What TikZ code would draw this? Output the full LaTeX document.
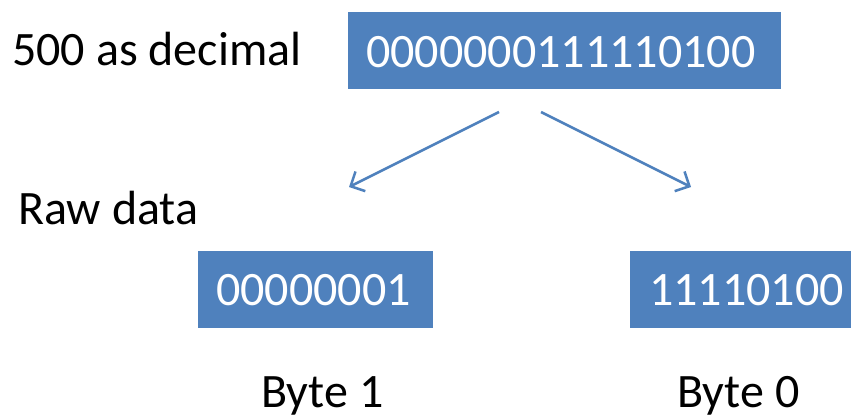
\documentclass[tikz,border=0pt]{standalone}
\usepackage{fontspec}
\setmainfont{Carlito}
\usetikzlibrary{arrows.meta}
\definecolor{boxblue}{HTML}{4F81BD}
\begin{document}
\begin{tikzpicture}[x=1pt,y=-1pt,
  bitbox/.style={fill=boxblue,draw=none},
  bits/.style={anchor=base west,inner sep=0pt,text=white,font=\fontsize{48}{58}\selectfont},
  label/.style={anchor=base west,inner sep=0pt,text=black,font=\fontsize{48}{58}\selectfont},
  split/.style={draw=boxblue,line width=2.5pt,-{Straight Barb[length=11pt,width=22pt,line width=2.5pt]}}]
\useasboundingbox (0,0) rectangle (854,418);

% the 16-bit value and the two bytes
\fill[bitbox] (348,12) rectangle (781,89);
\node[bits] (word) at (366,67) {0000000111110100};
\fill[bitbox] (198,251) rectangle (433,328);
\node[bits] (hi) at (216,305) {00000001};
\fill[bitbox] (630,251) rectangle (851,328);
\node[bits] (lo) at (649,305) {11110100};

% captions
\node[label] (dec) at (12,65) {500 as decimal};
\node[label] (raw) at (18,224) {Raw data};
\node[label] (b1) at (261,407) {Byte 1};
\node[label] (b0) at (677,407) {Byte 0};

% splitting arrows
\coordinate (s1) at (499,112);
\coordinate (e1) at (349,187);
\coordinate (s0) at (541,112);
\coordinate (e0) at (691,187);
\draw[split] (s1) -- (e1);
\draw[split] (s0) -- (e0);
\end{tikzpicture}
\end{document}
